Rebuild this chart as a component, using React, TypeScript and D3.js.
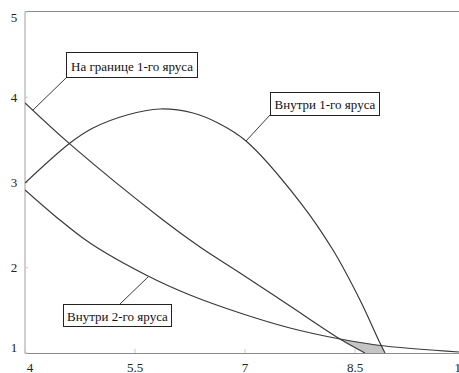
import React from "react";
import * as d3 from "d3";

// ---- data ----
const xTicks = [4, 5.5, 7, 8.5, 10];
const xTickLabels = ["4", "5.5", "7", "8.5", "10"];
const yTicks = [1, 2, 3, 4, 5];
const yTickLabels = ["1", "2", "3", "4", "5"];

// "На границе 1-го яруса"
const boundaryX = [4.0, 4.614, 5.882, 6.386, 6.932, 7.614, 8.295, 8.636];
const boundaryY = [3.933, 3.45, 2.56, 2.243, 1.938, 1.551, 1.164, 1.0];

// "Внутри 1-го яруса"
const tier1X = [4.0, 4.614, 4.927, 5.391, 5.841, 6.291, 6.632, 7.014, 7.75, 8.2, 8.568, 8.841, 8.909];
const tier1Y = [2.994, 3.463, 3.639, 3.792, 3.862, 3.815, 3.698, 3.487, 2.771, 2.208, 1.622, 1.117, 1.0];

// "Внутри 2-го яруса"
const tier2X = [4.0, 4.409, 4.886, 5.677, 6.25, 6.932, 7.614, 8.295, 8.909, 9.918];
const tier2Y = [2.912, 2.608, 2.29, 1.903, 1.68, 1.469, 1.293, 1.164, 1.082, 1.012];

const labelBoundary = "На границе 1-го яруса";
const labelTier1 = "Внутри 1-го яруса";
const labelTier2 = "Внутри 2-го яруса";

const W = 459;
const H = 373;

function interp(xs: number[], ys: number[], x: number): number {
  if (x <= xs[0]) return ys[0];
  if (x >= xs[xs.length - 1]) return ys[ys.length - 1];
  const i = d3.bisectRight(xs, x) - 1;
  const t = (x - xs[i]) / (xs[i + 1] - xs[i]);
  return ys[i] + t * (ys[i + 1] - ys[i]);
}

const FONT = "'Liberation Serif'";

export default function App() {
  const x = d3.scaleLinear().domain([4, 10]).range([25, 465]);
  const y = d3.scaleLinear().domain([1, 5]).range([353, 12]);

  const line = d3
    .line<[number, number]>()
    .x((d) => x(d[0]))
    .y((d) => y(d[1]))
    .curve(d3.curveCatmullRom.alpha(0.5));

  const zip = (xs: number[], ys: number[]) => xs.map((v, i) => [v, ys[i]] as [number, number]);

  // shaded region: above boundary line and y=1, below both tier curves
  const samples = d3.range(8.1, 9.0, 0.002);
  const region = samples
    .map((sx) => {
      const lo = sx > boundaryX[boundaryX.length - 1] ? 1 : Math.max(1, interp(boundaryX, boundaryY, sx));
      const hi = Math.min(
        sx > tier1X[tier1X.length - 1] ? 1 : interp(tier1X, tier1Y, sx),
        interp(tier2X, tier2Y, sx)
      );
      return { sx, lo, hi };
    })
    .filter((d) => d.hi > d.lo);
  const area = d3
    .area<{ sx: number; lo: number; hi: number }>()
    .x((d) => x(d.sx))
    .y0((d) => y(d.lo))
    .y1((d) => y(d.hi));

  const curveColor = "#3a3a3a";
  const frameColor = "#8a8a8a";

  const yLabelPos = (v: number) => Math.min(Math.max(y(v), 17), 347);
  const xLabelPos = (v: number) => Math.min(Math.max(x(v), 30), 461);

  const txt = { fontFamily: FONT };

  return (
    <svg width={W} height={H} style={{ position: "absolute", left: 0, top: 0, background: "#fff" }}>
      <rect x={0} y={0} width={W} height={H} fill="#fff" />
      <defs>
        <clipPath id="plot">
          <rect x={25} y={12} width={440} height={341.5} />
        </clipPath>
      </defs>

      {/* frame */}
      <line x1={25} y1={11.5} x2={W} y2={11.5} stroke={frameColor} strokeWidth={1} />
      <line x1={25} y1={11.5} x2={25} y2={353.5} stroke="#a0a0a0" strokeWidth={1} />
      <line x1={25} y1={353.5} x2={W} y2={353.5} stroke={frameColor} strokeWidth={1} />

      {/* ticks */}
      {xTicks.map((t) => (
        <line key={"xt" + t} x1={x(t)} x2={x(t)} y1={353} y2={349} stroke="#c8c8c8" />
      ))}
      {yTicks.map((t) => (
        <line key={"yt" + t} x1={25} x2={28} y1={y(t)} y2={y(t)} stroke="#c8c8c8" />
      ))}

      {/* tick labels */}
      {xTicks.map((t, i) => (
        <text key={"xl" + t} x={xLabelPos(t)} y={372} fontSize={13} textAnchor="middle" fill="#222" style={txt}>
          {xTickLabels[i]}
        </text>
      ))}
      {yTicks.map((t, i) => (
        <text
          key={"yl" + t}
          x={14}
          y={yLabelPos(t)}
          fontSize={13}
          textAnchor="middle"
          dominantBaseline="central"
          fill="#222"
          style={txt}
        >
          {yTickLabels[i]}
        </text>
      ))}

      <g clipPath="url(#plot)">
        <path d={area(region) || ""} fill="#c4c4c4" stroke="none" />
        <path d={line(zip(boundaryX, boundaryY)) || ""} fill="none" stroke={curveColor} strokeWidth={1.2} />
        <path d={line(zip(tier1X, tier1Y)) || ""} fill="none" stroke={curveColor} strokeWidth={1.2} />
        <path d={line(zip(tier2X, tier2Y)) || ""} fill="none" stroke={curveColor} strokeWidth={1.2} />
      </g>

      {/* annotations */}
      <line x1={67} y1={77} x2={33} y2={110} stroke={curveColor} strokeWidth={1} />
      <rect x={66.5} y={52.5} width={131} height={25} fill="#fff" stroke="#222" strokeWidth={1} />
      <text x={132} y={66} fontSize={13} textAnchor="middle" dominantBaseline="central" fill="#111" style={txt}>
        {labelBoundary}
      </text>

      <line x1={270} y1={115} x2={246} y2={141} stroke={curveColor} strokeWidth={1} />
      <rect x={270.5} y={92.5} width={109} height={23} fill="#fff" stroke="#222" strokeWidth={1} />
      <text x={325} y={104.5} fontSize={13} textAnchor="middle" dominantBaseline="central" fill="#111" style={txt}>
        {labelTier1}
      </text>

      <line x1={120} y1={304} x2={148} y2={277} stroke={curveColor} strokeWidth={1} />
      <rect x={63.5} y={304.5} width={108} height={22} fill="#fff" stroke="#222" strokeWidth={1} />
      <text x={117.5} y={316} fontSize={13} textAnchor="middle" dominantBaseline="central" fill="#111" style={txt}>
        {labelTier2}
      </text>
    </svg>
  );
}
